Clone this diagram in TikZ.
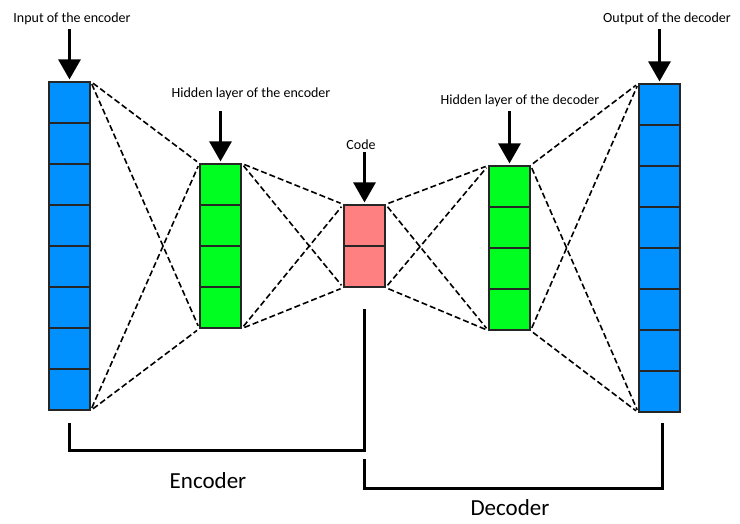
\documentclass[tikz,border=0pt]{standalone}
\usepackage{fontspec}
\setmainfont{Carlito}
\usetikzlibrary{arrows.meta,positioning}
\definecolor{inblue}{RGB}{0,145,255}
\definecolor{hidgreen}{RGB}{0,255,32}
\definecolor{codepink}{RGB}{255,128,128}
\tikzset{
  cell/.style={draw=black!85,line width=1.2pt,minimum width=41pt,minimum height=41pt,inner sep=0pt},
  link/.style={line width=1.6pt,dash pattern=on 6pt off 3pt,shorten <=3pt,shorten >=3pt},
  arr/.style={line width=3pt,-{Triangle[width=22pt,length=20pt]}},
  brk/.style={line width=3pt},
  lbl/.style={font=\fontsize{14}{16}\selectfont,inner sep=1pt},
  big/.style={font=\fontsize{23}{26}\selectfont,inner sep=0pt}
}
\begin{document}
\begin{tikzpicture}[x=1pt,y=-1pt]
\useasboundingbox (0,0) rectangle (740,523);

% layers
\foreach \i in {1,...,8} \node[cell,fill=inblue] (in\i) at (69.5,{61.5+41*\i}) {};
\foreach \i in {1,...,4} \node[cell,fill=hidgreen] (he\i) at (220.5,{143.5+41*\i}) {};
\foreach \i in {1,2} \node[cell,fill=codepink] (code\i) at (364.5,{184.5+41*\i}) {};
\foreach \i in {1,...,4} \node[cell,fill=hidgreen] (hd\i) at (509.5,{145.5+41*\i}) {};
\foreach \i in {1,...,8} \node[cell,fill=inblue] (out\i) at (659.5,{63.5+41*\i}) {};

% dashed connections
\foreach \a/\b in {in1.north east/he1.north west, in1.north east/he4.south west,
                   in8.south east/he1.north west, in8.south east/he4.south west,
                   he1.north east/code1.north west, he1.north east/code2.south west,
                   he4.south east/code1.north west, he4.south east/code2.south west,
                   code1.north east/hd1.north west, code1.north east/hd4.south west,
                   code2.south east/hd1.north west, code2.south east/hd4.south west,
                   hd1.north east/out1.north west, hd1.north east/out8.south west,
                   hd4.south east/out1.north west, hd4.south east/out8.south west}
  \draw[link] (\a) -- (\b);

% labels and arrows
\node[lbl] (lin) at (72,19) {Input of the encoder};
\node[lbl] (lhe) at (251,94) {Hidden layer of the encoder};
\node[lbl] (lcode) at (361,145) {Code};
\node[lbl] (lhd) at (520,101) {Hidden layer of the decoder};
\node[lbl] (lout) at (667,19) {Output of the decoder};

\draw[arr,shorten <=3pt,shorten >=2pt] (lin.south -| in1.north) -- (in1.north);
\draw[arr,shorten <=10pt,shorten >=2pt] (lhe.south -| he1.north) -- (he1.north);
\draw[arr,shorten <=1pt,shorten >=2pt] (lcode.south -| code1.north) -- (code1.north);
\draw[arr,shorten <=3pt,shorten >=2pt] (lhd.south -| hd1.north) -- (hd1.north);
\draw[arr,shorten <=3pt,shorten >=2pt] (lout.south -| out1.north) -- (out1.north);

% brackets
\coordinate (encL) at ([yshift=-12pt]in8.south);
\coordinate (encR) at ([yshift=-21pt]code2.south);
\coordinate (decL) at (364.5,459);
\coordinate (decR) at ([yshift=-10pt,xshift=3pt]out8.south);
\draw[brk] (encL) -- ++(0,28) -| (encR);
\draw[brk] (decL) -- ++(0,29) -| (decR);
\node[big] (enc) at (208,481) {Encoder};
\node[big] (dec) at (510,508) {Decoder};
\end{tikzpicture}
\end{document}
